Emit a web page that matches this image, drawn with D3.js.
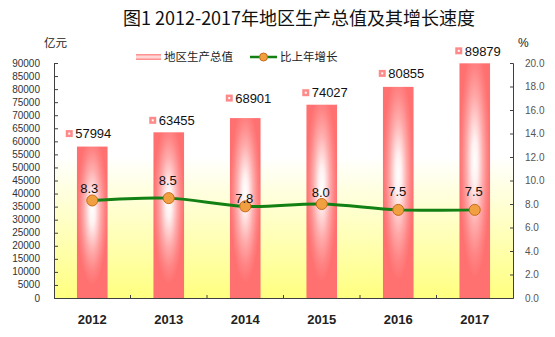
<!DOCTYPE html>
<html><head><meta charset="utf-8">
<script src="https://cdn.jsdelivr.net/npm/d3@7"></script>
<style>
html,body{margin:0;padding:0;background:#fff;}
svg{display:block;}
</style></head>
<body>
<svg id="chart" width="555" height="337"></svg>
<script>
const years = ["2012","2013","2014","2015","2016","2017"];
const gdp = [57994, 63455, 68901, 74027, 80855, 89879];
const growth = [8.3, 8.5, 7.8, 8.0, 7.5, 7.5];
const leftTicks = d3.range(0, 90001, 5000);
const rightTicks = d3.range(0, 20.01, 2);
const titleText = "图1 2012-2017年地区生产总值及其增长速度";
const legendLabels = ["地区生产总值", "比上年增长"];

const W = 555, H = 337;
const m = {left: 54, right: 42, top: 63, bottom: 39};
const x0 = m.left, x1 = W - m.right, y0 = m.top, y1 = H - m.bottom;
const svg = d3.select("#chart");
const defs = svg.append("defs");
const CJK = "'Noto Sans CJK SC','Noto Sans',sans-serif";
const LAT = "'Liberation Sans',Arial,sans-serif";

// gradients
const bg = defs.append("linearGradient").attr("id","bgGrad").attr("x1",0).attr("y1",0).attr("x2",0).attr("y2",1);
bg.append("stop").attr("offset","0").attr("stop-color","#ffffff");
bg.append("stop").attr("offset","0.4").attr("stop-color","#ffffff");
bg.append("stop").attr("offset","1").attr("stop-color","#ffff80");

const bgr = defs.append("radialGradient").attr("id","barGrad")
  .attr("cx",0.5).attr("cy",0.42).attr("r",0.5).attr("fx",0.5).attr("fy",0.42);
bgr.append("stop").attr("offset","0").attr("stop-color","#ffffff");
bgr.append("stop").attr("offset","0.2").attr("stop-color","#fff0f0");
bgr.append("stop").attr("offset","0.55").attr("stop-color","#ffaaaa");
bgr.append("stop").attr("offset","0.8").attr("stop-color","#ff8484");
bgr.append("stop").attr("offset","1").attr("stop-color","#ff7070");

const lg = defs.append("linearGradient").attr("id","legGrad").attr("x1",0).attr("y1",0).attr("x2",0).attr("y2",1);
lg.append("stop").attr("offset","0").attr("stop-color","#ff8080");
lg.append("stop").attr("offset","0.5").attr("stop-color","#ffe8e8");
lg.append("stop").attr("offset","1").attr("stop-color","#ff8080");

// scales
const x = d3.scaleBand().domain(years).range([x0, x1]).paddingInner(0).paddingOuter(0);
const yL = d3.scaleLinear().domain([0, 90000]).range([y1, y0]);
const yR = d3.scaleLinear().domain([0, 20]).range([y1, y0]);
const bw = x.bandwidth() * 0.4;
const cx = d => x(d) + x.bandwidth() / 2;

// plot background
svg.append("rect").attr("x", x0).attr("y", y0).attr("width", x1 - x0).attr("height", y1 - y0)
  .attr("fill", "url(#bgGrad)");

// bars
svg.append("g").selectAll("rect").data(years).join("rect")
  .attr("x", d => cx(d) - bw / 2)
  .attr("y", (d, i) => yL(gdp[i]))
  .attr("width", bw)
  .attr("height", (d, i) => yL(0) - yL(gdp[i]))
  .attr("fill", "url(#barGrad)");

// axes
const axisColor = "#404040";
const gL = svg.append("g").attr("transform", `translate(${x0},0)`)
  .call(d3.axisRight(yL).tickValues(leftTicks).tickSize(4).tickFormat(""));
gL.select(".domain").attr("stroke", axisColor);
gL.selectAll(".tick line").attr("stroke", axisColor);
svg.append("g").selectAll("text").data(leftTicks).join("text")
  .attr("x", 40).attr("y", d => yL(d)).attr("dy", "0.35em")
  .attr("text-anchor", "end").attr("font-family", LAT).attr("font-size", 10)
  .attr("fill", "#333").text(d => d);

const gR = svg.append("g").attr("transform", `translate(${x1},0)`)
  .call(d3.axisLeft(yR).tickValues(rightTicks).tickSize(3).tickFormat(""));
gR.select(".domain").attr("stroke", axisColor);
gR.selectAll(".tick line").attr("stroke", axisColor);
svg.append("g").selectAll("text").data(rightTicks).join("text")
  .attr("x", 525).attr("y", d => yR(d)).attr("dy", "0.35em")
  .attr("text-anchor", "start").attr("font-family", LAT).attr("font-size", 10)
  .attr("fill", "#555").text(d => d.toFixed(1));

const gB = svg.append("g").attr("transform", `translate(0,${y1})`)
  .call(d3.axisBottom(x).tickSize(0).tickFormat(""));
gB.select(".domain").attr("stroke", axisColor);
svg.append("g").selectAll("line").data(years.slice(1)).join("line")
  .attr("x1", d => x(d)).attr("x2", d => x(d))
  .attr("y1", y1).attr("y2", y1 - 3).attr("stroke", axisColor);
svg.append("g").selectAll("text").data(years).join("text")
  .attr("x", d => cx(d)).attr("y", 324)
  .attr("text-anchor", "middle").attr("font-family", LAT).attr("font-size", 13)
  .attr("font-weight", "bold").attr("fill", "#222").text(d => d);

// line
const line = d3.line().x((d, i) => cx(years[i])).y(d => yR(d)).curve(d3.curveCatmullRom.alpha(0.5));
svg.append("path").datum(growth).attr("d", line)
  .attr("fill", "none").attr("stroke", "#138013").attr("stroke-width", 3);
svg.append("g").selectAll("circle").data(growth).join("circle")
  .attr("cx", (d, i) => cx(years[i])).attr("cy", d => yR(d)).attr("r", 5.5)
  .attr("fill", "#f0a040").attr("stroke", "#c86a18").attr("stroke-width", 1);

// growth labels
const gLift = [7, 13, 3, 7, 14, 14];
svg.append("g").selectAll("text").data(growth).join("text")
  .attr("x", (d, i) => cx(years[i]) - (i === 0 ? 3 : 1))
  .attr("y", (d, i) => yR(d) - gLift[i])
  .attr("text-anchor", "middle").attr("font-family", LAT).attr("font-size", 13)
  .attr("fill", "#111").text(d => d.toFixed(1));

// gdp labels with legend key
const vLift = [13, 12, 20, 12, 13.5, 12.5];
const lab = svg.append("g").selectAll("g").data(gdp).join("g")
  .attr("transform", (d, i) => `translate(${cx(years[i]) + (i === 0 ? 1 : 8)},${yL(d) - vLift[i]})`);
lab.append("text").attr("x", 0).attr("y", 0).attr("dy", "0.36em")
  .attr("text-anchor", "middle").attr("font-family", LAT).attr("font-size", 13)
  .attr("fill", "#111").text(d => d);
lab.append("rect").attr("x", -27.5).attr("y", -3.5).attr("width", 7).attr("height", 7)
  .attr("fill", "#ff8a8a");
lab.append("rect").attr("x", -25).attr("y", -1).attr("width", 2).attr("height", 2)
  .attr("fill", "#fff");

// title and units
svg.append("text").attr("x", 299).attr("y", 25).attr("text-anchor", "middle")
  .attr("font-family", CJK).attr("font-size", 18).attr("fill", "#111").text(titleText);
svg.append("text").attr("x", 44).attr("y", 47).attr("font-family", CJK)
  .attr("font-size", 11.5).attr("fill", "#222").text("亿元");
svg.append("text").attr("x", 518).attr("y", 47).attr("font-family", LAT)
  .attr("font-size", 12).attr("fill", "#222").text("%");

// legend
const leg = svg.append("g");
leg.append("rect").attr("x", 136).attr("y", 54).attr("width", 25).attr("height", 6)
  .attr("fill", "url(#legGrad)");
leg.append("text").attr("x", 164).attr("y", 61).attr("font-family", CJK)
  .attr("font-size", 11.5).attr("fill", "#222").text(legendLabels[0]);
leg.append("line").attr("x1", 250).attr("x2", 277).attr("y1", 57).attr("y2", 57)
  .attr("stroke", "#138013").attr("stroke-width", 2.5);
leg.append("circle").attr("cx", 263.5).attr("cy", 57).attr("r", 4)
  .attr("fill", "#f0a040").attr("stroke", "#c86a18");
leg.append("text").attr("x", 280).attr("y", 61).attr("font-family", CJK)
  .attr("font-size", 11.5).attr("fill", "#222").text(legendLabels[1]);
</script>
</body></html>
